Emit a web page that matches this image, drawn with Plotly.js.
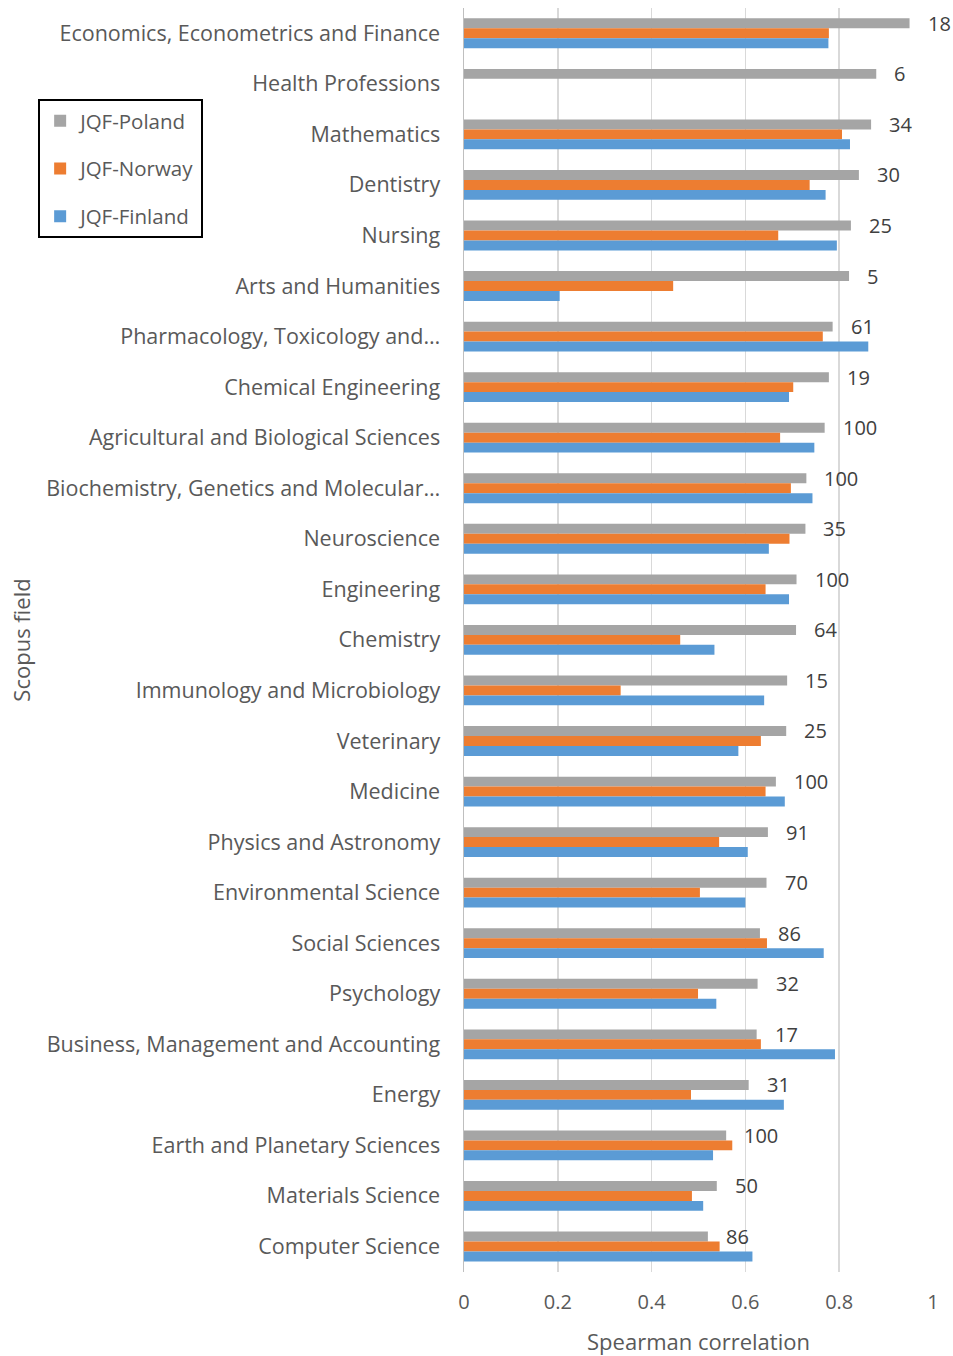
<!DOCTYPE html>
<html>
<head>
<meta charset="utf-8">
<script src="https://cdn.plot.ly/plotly-3.0.1.min.js"></script>
<style>html,body{margin:0;padding:0;background:#fff;}#chart{width:953px;height:1356px;}</style>
</head>
<body>
<div id="chart"></div>
<script>
const categories = [
  "Economics, Econometrics and Finance",
  "Health Professions",
  "Mathematics",
  "Dentistry",
  "Nursing",
  "Arts and Humanities",
  "Pharmacology, Toxicology and…",
  "Chemical Engineering",
  "Agricultural and Biological Sciences",
  "Biochemistry, Genetics and Molecular…",
  "Neuroscience",
  "Engineering",
  "Chemistry",
  "Immunology and Microbiology",
  "Veterinary",
  "Medicine",
  "Physics and Astronomy",
  "Environmental Science",
  "Social Sciences",
  "Psychology",
  "Business, Management and Accounting",
  "Energy",
  "Earth and Planetary Sciences",
  "Materials Science",
  "Computer Science"
];
const poland  = [0.950,0.879,0.868,0.842,0.825,0.821,0.786,0.778,0.769,0.730,0.728,0.709,0.708,0.689,0.687,0.665,0.648,0.645,0.631,0.626,0.624,0.607,0.559,0.539,0.520];
const norway  = [0.778,null,0.806,0.737,0.670,0.446,0.765,0.702,0.674,0.697,0.694,0.643,0.461,0.334,0.633,0.643,0.544,0.503,0.646,0.499,0.633,0.484,0.572,0.486,0.545];
const finland = [0.777,null,0.823,0.771,0.795,0.204,0.862,0.693,0.747,0.743,0.650,0.693,0.534,0.640,0.585,0.684,0.605,0.600,0.767,0.538,0.791,0.682,0.531,0.510,0.615];
const counts  = [18,6,34,30,25,5,61,19,100,100,35,100,64,15,25,100,91,70,86,32,17,31,100,50,86];
const seriesNames = ["JQF-Poland","JQF-Norway","JQF-Finland"];
const seriesColors = ["#A5A5A5","#ED7D31","#5B9BD5"];

const FONT = "'Open Sans', 'Noto Sans', sans-serif";
const series = [poland, norway, finland];
const traces = series.map((vals, i) => ({
  type: "bar",
  orientation: "h",
  name: seriesNames[i],
  x: vals,
  y: categories,
  marker: {color: seriesColors[i], line: {width: 0}},
  legendgroup: "g" + i,
  hoverinfo: "x+y+name"
}));

const annotations = categories.map((c, i) => ({
  x: poland[i], y: c, xref: "x", yref: "y",
  text: String(counts[i]),
  showarrow: false, xanchor: "left", yanchor: "middle",
  xshift: 16, yshift: 10,
  font: {family: FONT, size: 20, color: "#404040"}
}));

const layout = {
  width: 953, height: 1356,
  margin: {l: 464, r: 20, t: 8, b: 84},
  paper_bgcolor: "#fff", plot_bgcolor: "#fff",
  barmode: "group", bargap: 0.41, bargroupgap: 0,
  font: {family: FONT, color: "#595959"},
  xaxis: {
    range: [0, 1], dtick: 0.2, tick0: 0,
    showgrid: true, gridcolor: "#D9D9D9", gridwidth: 1.5,
    zeroline: false, showline: false, ticks: "",
    ticklabelstandoff: 16,
    tickfont: {size: 20, color: "#595959", family: FONT},
    title: {text: "Spearman correlation", font: {size: 22, color: "#595959", family: FONT}, standoff: 22},
    fixedrange: true
  },
  yaxis: {
    type: "category", categoryorder: "array", categoryarray: categories,
    autorange: "reversed",
    showgrid: false, zeroline: false,
    showline: true, linecolor: "#BFBFBF", linewidth: 1.5,
    ticks: "", ticklabelstandoff: 18,
    tickfont: {size: 21.5, color: "#595959", family: FONT},
    title: {text: "Scopus field", font: {size: 22, color: "#595959", family: FONT}, standoff: 9},
    automargin: false,
    fixedrange: true
  },
  showlegend: true,
  legend: {
    x: -0.908, y: 0.928, xanchor: "left", yanchor: "top",
    xref: "paper", yref: "paper",
    bordercolor: "#000", borderwidth: 2, bgcolor: "#fff",
    traceorder: "grouped", tracegroupgap: 18,
    itemwidth: 30,
    font: {size: 20.5, color: "#595959", family: FONT}
  },
  annotations: annotations
};

Plotly.newPlot("chart", traces, layout, {displayModeBar: false, staticPlot: true});
</script>
</body>
</html>
